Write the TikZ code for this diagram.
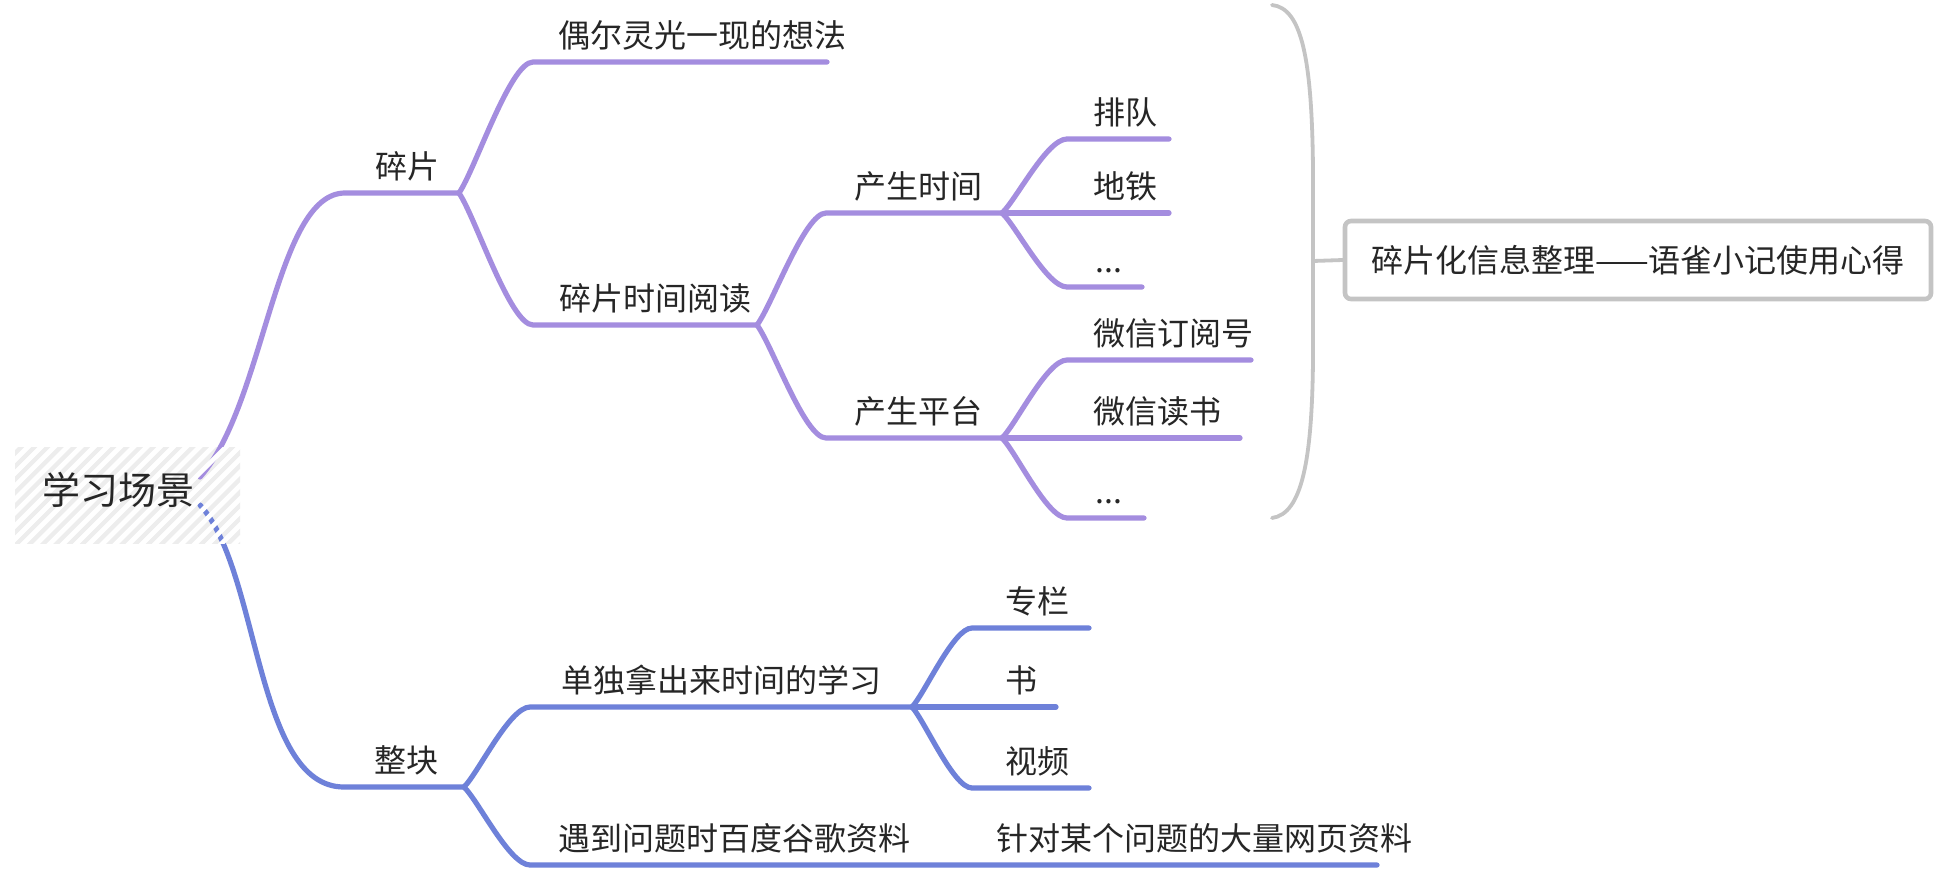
\documentclass[tikz,border=0pt]{standalone}
\usepackage{fontspec}
\setmainfont{Noto Sans CJK SC}
\usetikzlibrary{calc}
\definecolor{pur}{RGB}{164,141,223}
\definecolor{blu}{RGB}{110,129,217}
\definecolor{txtc}{RGB}{38,38,38}
\definecolor{brk}{RGB}{196,196,196}
\definecolor{hatchc}{RGB}{237,237,237}
\begin{document}
\begin{tikzpicture}[x=1pt,y=-1pt,
  pl/.style={draw=pur, line width=5.2pt, line cap=round, line join=round},
  bl/.style={draw=blu, line width=5.2pt, line cap=round, line join=round},
  brs/.style={draw=brk, line width=3.8pt, line cap=round, line join=round},
  tx/.style={anchor=base west, inner sep=0pt, text=txtc, font=\fontsize{32}{38}\selectfont},
  branch/.style={to path={let \p1=(\tikztostart), \p2=(\tikztotarget) in
     .. controls ({\x1+0.22*(\x2-\x1)},{\y1+0.18*(\y2-\y1)}) and ({\x2-0.31*(\x2-\x1)},{\y2}) .. (\tikztotarget)}}
]
\fill[white] (0,0) rectangle (1940,873);
\useasboundingbox (0,0) rectangle (1940,873);

% root hatch (grey stripes)
\begin{scope}
  \clip (15,447) rectangle (240,543);
  \foreach \k in {0,...,26} {
    \draw[hatchc, line width=4.6pt] ({455+13.2*\k-560},560) -- ({455+13.2*\k-430},430);
  }
\end{scope}

% coordinates
\coordinate (rP) at (200,477);
\coordinate (rB) at (200,505);
\coordinate (As) at (345,193);  \coordinate (Ae) at (459,193);
\coordinate (A1s) at (533,62);  \coordinate (A1e) at (827,62);
\coordinate (A2s) at (533,325); \coordinate (A2e) at (757,325);
\coordinate (Ts) at (826,213);  \coordinate (Te) at (1002,213);
\coordinate (T1s) at (1067,139); \coordinate (T1e) at (1169,139);
\coordinate (T2e) at (1169,213);
\coordinate (T3s) at (1067,287); \coordinate (T3e) at (1142,287);
\coordinate (Ps) at (826,438);  \coordinate (Pe) at (1002,438);
\coordinate (P1s) at (1067,360); \coordinate (P1e) at (1251,360);
\coordinate (P2e) at (1240,438);
\coordinate (P3s) at (1067,518); \coordinate (P3e) at (1144,518);
\coordinate (Bs) at (344,787);  \coordinate (Be) at (464,787);
\coordinate (B1s) at (530,707); \coordinate (B1e) at (912,707);
\coordinate (C1s) at (972,628); \coordinate (C1e) at (1089,628);
\coordinate (C2e) at (1056,707);
\coordinate (C3s) at (972,788); \coordinate (C3e) at (1089,788);
\coordinate (B2s) at (530,865);
\coordinate (D1e) at (1377,865);

% purple branch
\draw[pl] (rP) .. controls (265,405) and (275,193) .. (As) -- (Ae);
\draw[pl] (Ae) to[branch] (A1s) -- (A1e);
\draw[pl] (Ae) to[branch] (A2s) -- (A2e);
\draw[pl] (A2e) to[branch] (Ts) -- (Te);
\draw[pl] (Te) to[branch] (T1s) -- (T1e);
\draw[pl] (Te) -- (T2e);
\draw[pl] (Te) to[branch] (T3s) -- (T3e);
\draw[pl] (A2e) to[branch] (Ps) -- (Pe);
\draw[pl] (Pe) to[branch] (P1s) -- (P1e);
\draw[pl] (Pe) -- (P2e);
\draw[pl] (Pe) to[branch] (P3s) -- (P3e);

% blue branch
\draw[bl] (rB) .. controls (260,570) and (255,787) .. (Bs) -- (Be);
\draw[bl] (Be) to[branch] (B1s) -- (B1e);
\draw[bl] (Be) to[branch] (B2s) -- (D1e);
\draw[bl] (B1e) to[branch] (C1s) -- (C1e);
\draw[bl] (B1e) -- (C2e);
\draw[bl] (B1e) to[branch] (C3s) -- (C3e);

% white stripes over lines inside root hatch
\begin{scope}
  \clip (15,447) rectangle (240,543);
  \foreach \k in {0,...,26} {
    \draw[white, line width=4.6pt] ({461.6+13.2*\k-560},560) -- ({461.6+13.2*\k-430},430);
  }
\end{scope}

% summary bracket and box
\coordinate (brT) at (1272,5);
\coordinate (brB) at (1272,518);
\coordinate (brM) at (1313,261);
\draw[brs] (brT) .. controls (1302,8) and (1312,60) .. (1313,170) -- (brM) -- (1313,360) .. controls (1312,460) and (1302,514) .. (brB);
\node[draw=brk, line width=4.6pt, rounded corners=6pt, minimum width=586pt, minimum height=78pt, inner sep=0pt,
      text=txtc, font=\fontsize{32}{38}\selectfont] (summary) at (1638,260) {碎片化信息整理——语雀小记使用心得};
\draw[brs] (brM) -- (summary.west);

% texts
\node[anchor=base west, inner sep=0pt, text=txtc, font=\fontsize{38}{44}\selectfont] (root) at (42,504) {学习场景};
\node[tx] (nA)  at (375,178) {碎片};
\node[tx] (nA1) at (558,47)  {偶尔灵光一现的想法};
\node[tx] (nA2) at (559,310) {碎片时间阅读};
\node[tx] (nT)  at (854,198) {产生时间};
\node[tx] (nT1) at (1093,124) {排队};
\node[tx] (nT2) at (1093,198) {地铁};
\node[tx] (nT3) at (1095,272) {...};
\node[tx] (nP)  at (854,423) {产生平台};
\node[tx] (nP1) at (1093,345) {微信订阅号};
\node[tx] (nP2) at (1093,423) {微信读书};
\node[tx] (nP3) at (1095,503) {...};
\node[tx] (nB)  at (374,772) {整块};
\node[tx] (nB1) at (561,692) {单独拿出来时间的学习};
\node[tx] (nC1) at (1005,613) {专栏};
\node[tx] (nC2) at (1005,692) {书};
\node[tx] (nC3) at (1005,773) {视频};
\node[tx] (nB2) at (558,850) {遇到问题时百度谷歌资料};
\node[tx] (nD1) at (996,850) {针对某个问题的大量网页资料};
\end{tikzpicture}
\end{document}
